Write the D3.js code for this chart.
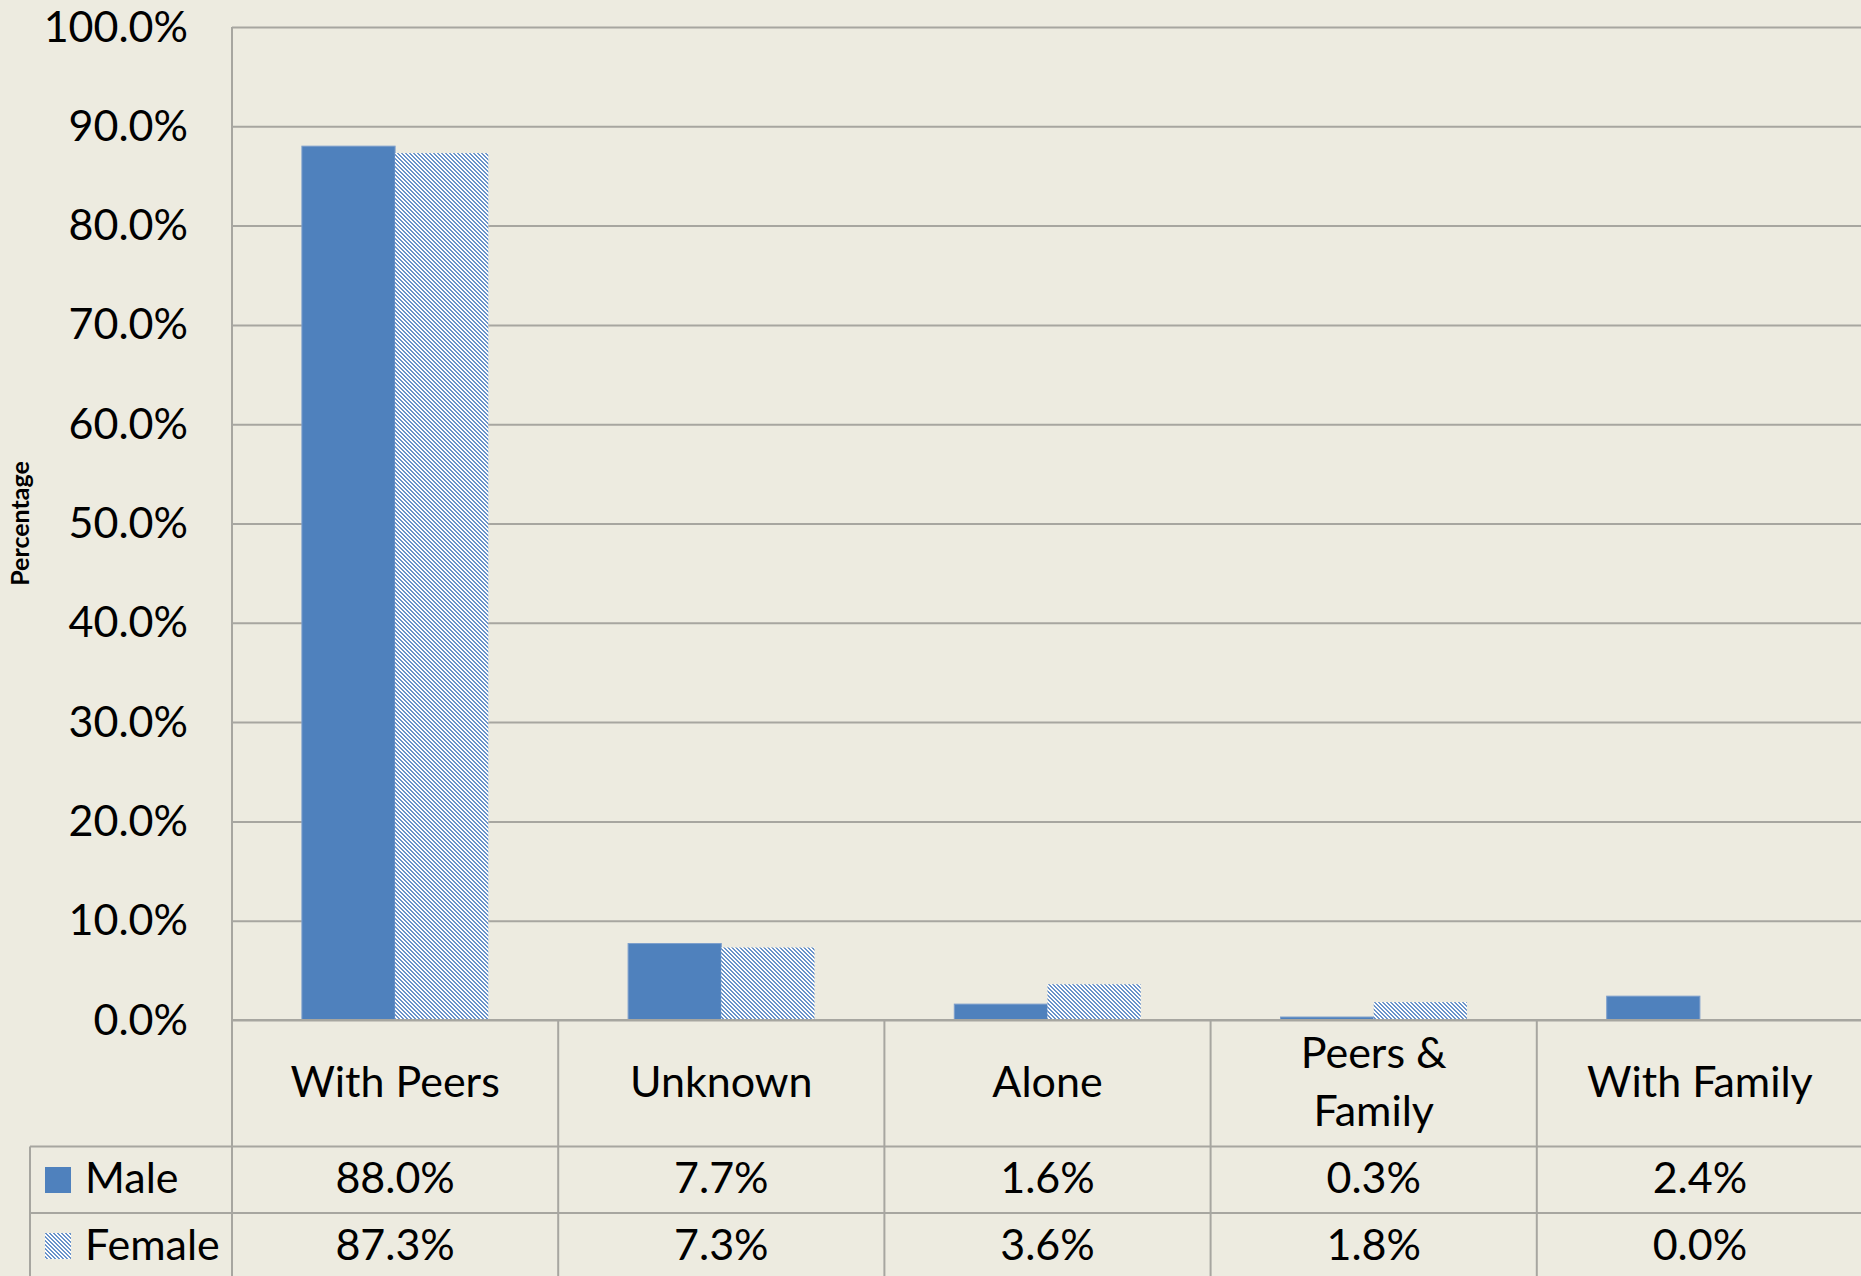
<!DOCTYPE html>
<html>
<head>
<meta charset="utf-8">
<script src="https://cdn.jsdelivr.net/npm/d3@7"></script>
<style>
  html, body { margin: 0; padding: 0; background: #edebe0; }
  svg { display: block; }
  .tick_txt { font-family: Lato, "Open Sans", sans-serif; fill: #000; }
</style>
</head>
<body>
<svg id="chart"></svg>
<script>
"use strict";

// data
const categories = ["With Peers", "Unknown", "Alone", "Peers & Family", "With Family"];
const category_lines = [["With Peers"], ["Unknown"], ["Alone"], ["Peers &", "Family"], ["With Family"]];
const series_names = ["Male", "Female"];
const male_values = [0.880, 0.077, 0.016, 0.003, 0.024];
const female_values = [0.873, 0.073, 0.036, 0.018, 0.000];
const y_ticks = [0, 0.1, 0.2, 0.3, 0.4, 0.5, 0.6, 0.7, 0.8, 0.9, 1.0];
const y_title = "Percentage";

const chart_width = 1861, chart_height = 1276;
const bg = "#edebe0", bar_blue = "#4f81bd", grid_col = "#a7a6a0";
const font_main = "Lato, 'Open Sans', sans-serif";

let chart_svg = d3.select("#chart")
  .attr("width", chart_width)
  .attr("height", chart_height);

chart_svg.append("rect").attr("width", chart_width).attr("height", chart_height).attr("fill", bg);

let chart_left = 232,
  band_w = 326.2,
  chart_right = chart_left + categories.length * band_w,
  chart_top = 27,
  chart_bottom = 1020;

let row_cat_bottom = 1146.5,
  row_male_bottom = 1213,
  row_female_bottom = 1280,
  table_left = 30;

// pattern for the female bars
let defs = chart_svg.append("defs");
let pat = defs.append("pattern")
  .attr("id", "fem_hatch")
  .attr("patternUnits", "userSpaceOnUse")
  .attr("width", 4).attr("height", 4);
pat.append("rect").attr("width", 4).attr("height", 4).attr("fill", "#ffffff");
for (let i = 0; i < 4; i++) {
  pat.append("rect").attr("x", i).attr("y", i).attr("width", 2).attr("height", 1).attr("fill", "#6a93c9");
  if (i == 3) pat.append("rect").attr("x", 0).attr("y", 3).attr("width", 1).attr("height", 1).attr("fill", "#6a93c9");
}

// scales
let x_scale = d3.scaleBand().domain(categories).range([chart_left, chart_right]).padding(0);
let bar_w = band_w / 3.5;
let x_inner = d3.scaleBand().domain(series_names).range([bar_w * 0.75, bar_w * 0.75 + 2 * bar_w]).padding(0);
let y_scale = d3.scaleLinear().domain([0, 1]).range([chart_bottom, chart_top]);

// gridlines + y ticks
let y_axis = chart_svg.append("g")
  .attr("class", "axis_y")
  .attr("transform", "translate(" + chart_left + ",0)")
  .call(d3.axisLeft(y_scale).tickValues(y_ticks).tickFormat(d3.format(".1%"))
    .tickSize(-(chart_right - chart_left)).tickPadding(44));
y_axis.select(".domain").remove();
y_axis.selectAll("line").attr("stroke", grid_col).attr("stroke-width", 2);
y_axis.selectAll("text")
  .attr("class", "tick_txt")
  .attr("font-size", 43)
  .attr("dy", null)
  .attr("y", 14);

// y title
chart_svg.append("text")
  .attr("transform", "translate(29," + ((chart_top + chart_bottom) / 2) + ") rotate(-90)")
  .attr("text-anchor", "middle")
  .attr("font-family", font_main)
  .attr("font-weight", "bold")
  .attr("font-size", 25)
  .attr("fill", "#000")
  .text(y_title);

// bars
let bar_data = [];
categories.forEach((c, i) => {
  bar_data.push({ cat: c, s: "Male", v: male_values[i] });
  bar_data.push({ cat: c, s: "Female", v: female_values[i] });
});

chart_svg.append("g").selectAll("rect")
  .data(bar_data)
  .enter()
  .append("rect")
  .attr("x", d => x_scale(d.cat) + x_inner(d.s))
  .attr("y", d => y_scale(d.v))
  .attr("width", x_inner.bandwidth())
  .attr("height", d => y_scale(0) - y_scale(d.v))
  .attr("fill", d => d.s == "Male" ? bar_blue : "url(#fem_hatch)")
  .attr("stroke", d => d.s == "Male" ? "#7d9fcc" : "none")
  .attr("stroke-width", 1);

// table lines
let tbl = chart_svg.append("g").attr("stroke", grid_col).attr("stroke-width", 2);
tbl.append("line").attr("x1", chart_left).attr("x2", chart_right).attr("y1", chart_bottom).attr("y2", chart_bottom);
tbl.append("line").attr("x1", chart_left).attr("x2", chart_left).attr("y1", chart_top).attr("y2", row_female_bottom);
[row_cat_bottom, row_male_bottom].forEach(y => {
  tbl.append("line").attr("x1", table_left).attr("x2", chart_right).attr("y1", y).attr("y2", y);
});
tbl.append("line").attr("x1", table_left).attr("x2", table_left).attr("y1", row_cat_bottom).attr("y2", row_female_bottom);
categories.forEach(c => {
  let xe = x_scale(c) + x_scale.bandwidth();
  tbl.append("line").attr("x1", xe).attr("x2", xe).attr("y1", chart_bottom).attr("y2", row_female_bottom);
});

// category labels
let cat_g = chart_svg.append("g")
  .attr("font-family", font_main).attr("font-size", 43).attr("fill", "#000").attr("text-anchor", "middle");
categories.forEach((c, i) => {
  let lines = category_lines[i];
  let cx = x_scale(c) + x_scale.bandwidth() / 2;
  let base = 1097 - (lines.length - 1) * 29;
  lines.forEach((t, j) => {
    cat_g.append("text").attr("x", cx).attr("y", base + j * 58).text(t);
  });
});

// values rows
let fmt = d3.format(".1%");
let val_g = chart_svg.append("g")
  .attr("font-family", font_main).attr("font-size", 43).attr("fill", "#000").attr("text-anchor", "middle");
categories.forEach((c, i) => {
  let cx = x_scale(c) + x_scale.bandwidth() / 2;
  val_g.append("text").attr("x", cx).attr("y", 1193).text(fmt(male_values[i]));
  val_g.append("text").attr("x", cx).attr("y", 1260).text(fmt(female_values[i]));
});

// legend keys
let leg = chart_svg.append("g").attr("font-family", font_main).attr("font-size", 43).attr("fill", "#000");
leg.append("rect").attr("x", 45).attr("y", 1167).attr("width", 26).attr("height", 26).attr("fill", bar_blue);
leg.append("text").attr("x", 85).attr("y", 1193).text(series_names[0]);
leg.append("rect").attr("x", 45).attr("y", 1233).attr("width", 26).attr("height", 26).attr("fill", "url(#fem_hatch)");
leg.append("text").attr("x", 85).attr("y", 1260).text(series_names[1]);
</script>
</body>
</html>
